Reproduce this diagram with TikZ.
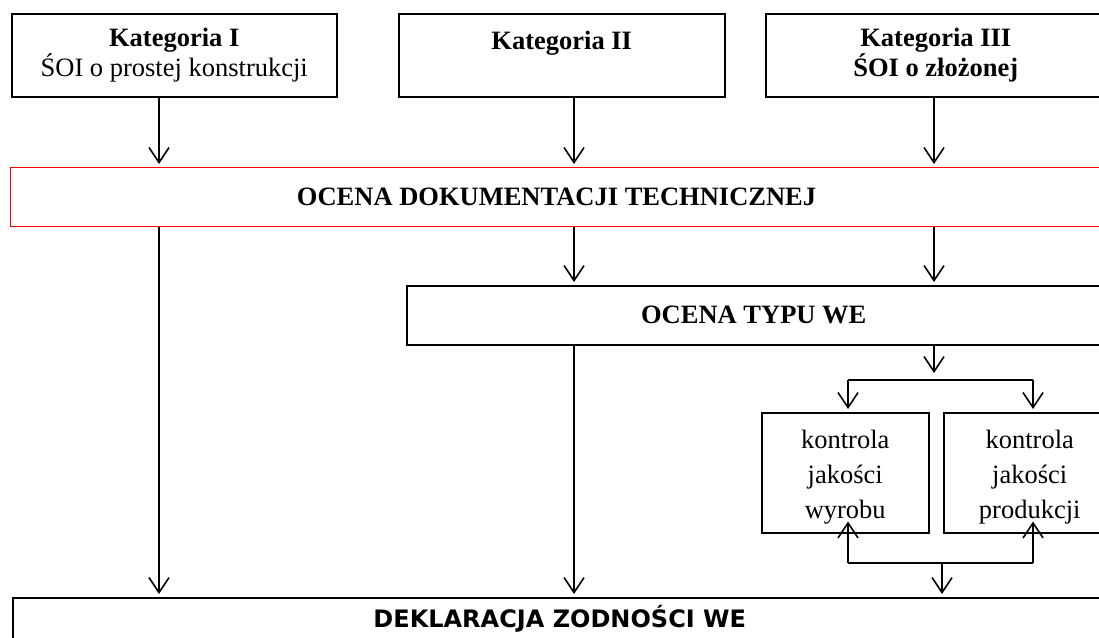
\documentclass[tikz,border=0pt]{standalone}
\usepackage{fontspec}
\setmainfont{Liberation Serif}
\newfontfamily\dejavu{DejaVu Sans}
\usetikzlibrary{arrows.meta}

\begin{document}
\begin{tikzpicture}[
      x=1pt, y=-1pt,
      box/.style={draw, line width=1.5pt, anchor=north west, inner sep=0pt, align=center, font=\fontsize{26.5}{30}\selectfont},
      redbox/.style={box, draw=red, line width=1.2pt},
      ctrl/.style={box, font=\fontsize{26.5}{35}\selectfont},
      line/.style={line width=1.6pt},
      arr/.style={line, shorten >=3pt, -{Straight Barb[length=15pt, width=20pt, line width=1.6pt]}}
    ]
    \useasboundingbox (0,0) rectangle (1099,637);
    \clip (0,0) rectangle (1099,637);

    \node[box, minimum width=325pt, minimum height=83pt] (kat1) at (11,13) {\textbf{Kategoria I}\\ŚOI o prostej konstrukcji};
    \node[box, minimum width=326pt, minimum height=83pt] (kat2) at (398,13) {\textbf{Kategoria II}\\\mbox{}};
    \node[box, minimum width=340pt, minimum height=83pt] (kat3) at (765,13) {\textbf{Kategoria III}\\\textbf{ŚOI o złożonej}};
    \node[redbox, minimum width=1092pt, minimum height=59pt] (dok) at (10,167) {\textbf{OCENA DOKUMENTACJI TECHNICZNEJ}};
    \node[box, minimum width=694pt, minimum height=59pt] (typ) at (406,285) {\textbf{OCENA TYPU WE}};
    \node[ctrl, minimum width=167pt, minimum height=120pt] (kw) at (761,412) {\rule{0pt}{28pt}kontrola\\jakości\\wyrobu};
    \node[ctrl, minimum width=172pt, minimum height=120pt] (kp) at (943,412) {\rule{0pt}{28pt}kontrola\\jakości\\produkcji};
    \node[box, minimum width=1094pt, text height=30pt, text depth=50pt, font=\dejavu\bfseries\fontsize{24}{28}\selectfont] (dek) at (12,597) {DEKLARACJA ZODNOŚCI WE};

    % columns and rails
    \coordinate (colA) at (159,0);
    \coordinate (colB) at (574,0);
    \coordinate (colC) at (934,0);
    \coordinate (split) at (934,380);
    \coordinate (kwtop) at (848,380);
    \coordinate (kptop) at (1033,380);
    \coordinate (kwbot) at (848,563);
    \coordinate (kpbot) at (1033,563);
    \coordinate (merge) at (942,563);

    \draw[arr] (kat1.south -| colA) -- (dok.north -| colA);
    \draw[arr] (kat2.south -| colB) -- (dok.north -| colB);
    \draw[arr] (kat3.south -| colC) -- (dok.north -| colC);

    \draw[arr] (dok.south -| colA) -- (dek.north -| colA);
    \draw[arr] (dok.south -| colB) -- (typ.north -| colB);
    \draw[arr] (dok.south -| colC) -- (typ.north -| colC);
    \draw[arr] (typ.south -| colB) -- (dek.north -| colB);

    \draw[arr, shorten >=7pt] (typ.south -| split) -- (split);
    \draw[line] (kwtop) -- (kptop);
    \draw[arr] (kwtop) -- (kw.north -| kwtop);
    \draw[arr] (kptop) -- (kp.north -| kptop);

    \draw[line] (kwbot) -- (kpbot);
    \draw[arr, shorten >=-12pt] (kwbot) -- (kw.south -| kwbot);
    \draw[arr, shorten >=-12pt] (kpbot) -- (kp.south -| kpbot);
    \draw[arr] (merge) -- (dek.north -| merge);
  \end{tikzpicture}
\end{document}
